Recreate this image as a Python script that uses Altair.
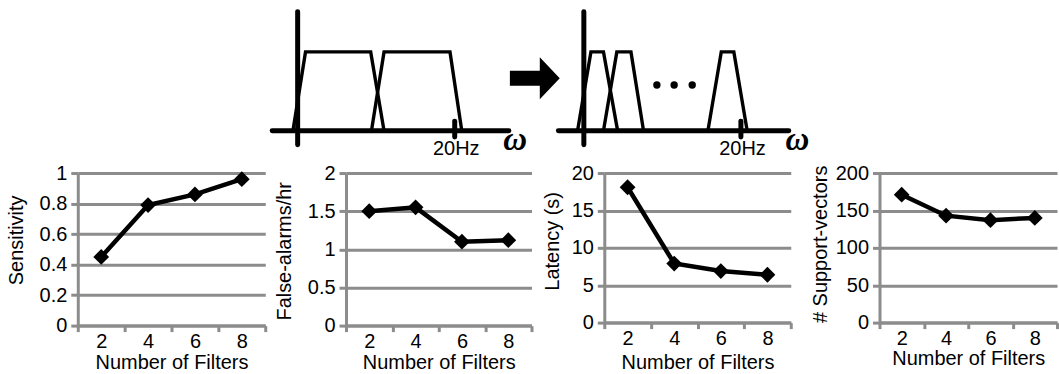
import altair as alt
import pandas as pd

FONT = "Liberation Sans"
GRID = "#8c8c8c"

# ---------------- bottom charts data ----------------
filters = ["2", "4", "6", "8"]
sensitivity = [0.45, 0.79, 0.86, 0.96]
false_alarms = [1.50, 1.55, 1.10, 1.12]
latency = [18.1, 7.9, 6.9, 6.4]
support_vectors = [171, 143, 137, 140]

sens_ticks = [0, 0.2, 0.4, 0.6, 0.8, 1]
fa_ticks = [0, 0.5, 1, 1.5, 2]
lat_ticks = [0, 5, 10, 15, 20]
sv_ticks = [0, 50, 100, 150, 200]

# ---------------- schematic data (frequency in Hz, gain 0..1) ----------------
trap_gain = [0, 1, 1, 0]
left_filters = {
    "f1": [-0.6, 1.0, 9.3, 11.0],
    "f2": [9.4, 11.0, 19.4, 20.9],
}
right_filters = {
    "f1": [-0.8, 0.9, 2.5, 4.3],
    "f2": [2.5, 4.2, 6.0, 7.6],
    "f3": [15.8, 17.5, 19.1, 20.8],
}
dots_f = [9.3, 11.5, 13.8]
dots_g = [0.58, 0.58, 0.58]

freq_axis_left = [-3.24, 26.9]
freq_axis_right = [-3.24, 26.1]
gain_axis = [-0.18, 1.51]
cutoff_hz = 20
cutoff_tick = [-0.08, 0.12]
cutoff_label = "20Hz"
cutoff_label_pos = [20.2, -0.31]
omega_left = [27.7, -0.25]
omega_right = [27.2, -0.25]
arrow_pos = [30.2, 0.665]

ARROW = "M-1,-0.3L0.2,-0.3L0.2,-0.84L1,0L0.2,0.84L0.2,0.3L-1,0.3Z"

TOP_H = 160
FX = alt.Scale(domain=[-4, 28])
GY = alt.Scale(domain=[1.614 - TOP_H / 79.0, 1.614])


def fx(field):
    return alt.X(field, type="quantitative", scale=FX, axis=None)


def gy(field):
    return alt.Y(field, type="quantitative", scale=GY, axis=None)


def panel(filt, faxis, omega, with_dots=False, with_arrow=False):
    rows = []
    for name, xs in filt.items():
        for i, (f, g) in enumerate(zip(xs, trap_gain)):
            rows.append({"filter": name, "i": i, "f": f, "g": g})
    trap = pd.DataFrame(rows)
    axes = pd.DataFrame({
        "f": [faxis[0], 0], "f2": [faxis[1], 0],
        "g": [0, gain_axis[0]], "g2": [0, gain_axis[1]],
    })
    tick = pd.DataFrame({"f": [cutoff_hz], "g": [cutoff_tick[0]], "g2": [cutoff_tick[1]]})
    lab = pd.DataFrame({"f": [cutoff_label_pos[0]], "g": [cutoff_label_pos[1]], "t": [cutoff_label]})
    om = pd.DataFrame({"f": [omega[0]], "g": [omega[1]], "t": ["ω"]})

    layers = [
        alt.Chart(axes).mark_rule(color="black", strokeWidth=5, strokeCap="round").encode(
            x=fx("f"), x2="f2", y=gy("g"), y2="g2"),
        alt.Chart(trap).mark_line(color="black", strokeWidth=3.4, strokeJoin="miter").encode(
            x=fx("f"), y=gy("g"), detail="filter:N", order="i:Q"),
        alt.Chart(tick).mark_rule(color="black", strokeWidth=5, strokeCap="round").encode(
            x=fx("f"), y=gy("g"), y2="g2"),
        alt.Chart(lab).mark_text(font=FONT, fontSize=20, color="black", align="center",
                                 baseline="alphabetic").encode(x=fx("f"), y=gy("g"), text="t:N"),
        alt.Chart(om).mark_text(font="Liberation Serif", fontSize=33, fontWeight="bold",
                                fontStyle="italic", color="black", align="center",
                                baseline="alphabetic").encode(x=fx("f"), y=gy("g"), text="t:N"),
    ]
    if with_dots:
        d = pd.DataFrame({"f": dots_f, "g": dots_g})
        layers.append(alt.Chart(d).mark_point(shape="circle", filled=True, color="black",
                                              opacity=1, size=55).encode(x=fx("f"), y=gy("g")))
    if with_arrow:
        a = pd.DataFrame({"f": [arrow_pos[0]], "g": [arrow_pos[1]]})
        layers.append(alt.Chart(a).mark_point(shape=ARROW, filled=True, color="black",
                                              opacity=1, size=2500, strokeWidth=0).encode(
            x=fx("f"), y=gy("g")))
    return alt.layer(*layers).properties(width=252, height=TOP_H)


def metric(values, title, ticks, width, height, title_pad, title_y, x_title_pad):
    df = pd.DataFrame({"filters": filters, "value": values})
    base = alt.Chart(df).encode(
        x=alt.X("filters:O", sort=filters,
                scale=alt.Scale(type="band", paddingInner=0, paddingOuter=0),
                axis=alt.Axis(title="Number of Filters", labelAngle=0, tickBand="extent",
                              tickSize=6, labelPadding=0, titlePadding=x_title_pad,
                              grid=False)),
        y=alt.Y("value:Q",
                scale=alt.Scale(domain=[ticks[0], ticks[-1]], nice=False),
                axis=alt.Axis(title=title, values=ticks, format="~r", grid=True,
                              tickSize=7, labelPadding=4, titlePadding=title_pad,
                              titleY=title_y)),
    )
    line = base.mark_line(color="black", strokeWidth=4.5)
    pts = base.mark_point(shape="diamond", filled=True, color="black", opacity=1, size=250)
    return alt.layer(line, pts).properties(width=width, height=height)


def spacer(w, h=1):
    return alt.Chart(pd.DataFrame({"v": [0]})).mark_point(opacity=0).encode(
        x=alt.value(0), y=alt.value(0)).properties(width=w, height=h)


row1 = alt.hconcat(
    spacer(264), panel(left_filters, freq_axis_left, omega_left, with_arrow=True),
    spacer(35), panel(right_filters, freq_axis_right, omega_right, with_dots=True),
    spacing=0, bounds="flush")
row2 = alt.hconcat(
    spacer(75), metric(sensitivity, "Sensitivity", sens_ticks, 188, 153, 13, 67, 1),
    spacer(81), metric(false_alarms, "False-alarms/hr", fa_ticks, 186, 153, 13, 78, 1),
    spacer(73), metric(latency, "Latency (s)", lat_ticks, 187, 150, 9, 68, 4),
    spacer(89), metric(support_vectors, "# Support-vectors", sv_ticks, 178, 150, 5, 71, 0),
    spacing=0, bounds="flush")

chart = alt.vconcat(row1, row2, spacing=0).properties(
    padding=0, background="white"
).configure_view(stroke=None).configure_axis(
    domainColor=GRID, domainWidth=3, tickColor=GRID, tickWidth=3,
    gridColor=GRID, gridWidth=3,
    labelFont=FONT, labelFontSize=20, labelColor="black",
    titleFont=FONT, titleFontSize=20, titleFontWeight="normal", titleColor="black",
)

chart.save("out.html", embed_options={"renderer": "svg", "actions": False})
